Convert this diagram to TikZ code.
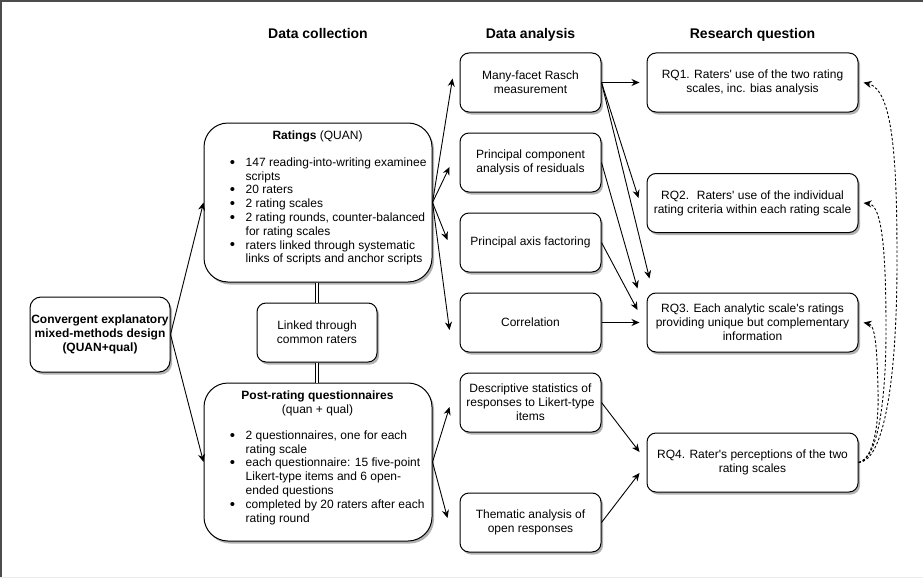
\documentclass[tikz,border=0pt]{standalone}
\usepackage{fontspec}
\setmainfont{Liberation Sans}[Ligatures=TeXOff]
\usetikzlibrary{arrows.meta,shadows,calc}
\newcommand{\itm}{\makebox[15.5pt][l]{\hspace*{-0.4pt}\raisebox{-0.8pt}{\fontsize{15}{13.8}\selectfont\textbullet}}}
\newcommand{\ind}{\hspace*{15.5pt}}
\begin{document}
\begin{tikzpicture}[x=1pt,y=-1pt,
  font=\fontsize{12}{13.8}\selectfont,
  box/.style={draw=black, line width=1pt, fill=white, rounded corners=#1, inner sep=0pt, align=center,
     drop shadow={shadow xshift=2pt,shadow yshift=-2.5pt,opacity=0.3,fill=black}},
  box/.default=9pt,
  sz/.style n args={2}{minimum width=#1pt, minimum height=#2pt},
  hdr/.style={font=\fontsize{14}{16}\selectfont\bfseries, anchor=base},
  arr/.style={-{Stealth[length=8pt,width=7pt]}, line width=0.9pt},
  dsh/.style={arr, dash pattern=on 2.5pt off 2pt},
  dbl/.style={double, double distance=2.2pt, line width=0.8pt},
]
\useasboundingbox (0,0) rectangle (923,578);
\fill[white] (0,0) rectangle (923,578);
% frame
\draw[line width=1.5pt, black!70] (1,578) -- (1,1) -- (923,1);
\draw[black!8] (0,577.5) -- (923,577.5);

% headers
\node[hdr] (hdc) at (318,38) {Data collection};
\node[hdr] (hda) at (530.5,38) {Data analysis};
\node[hdr] (hrq) at (752.5,38) {Research question};

% left
\node[box=11pt, sz={140}{75}, font=\fontsize{12}{13.8}\selectfont\bfseries] (conv) at (100,334.5)
  {Convergent explanatory\\mixed-methods design\\(QUAN+qual)};

% data collection
\node[box=24pt, sz={228}{159}] (rat) at (318,202.5) {};
\node[anchor=base, inner sep=0pt] (ratT) at (317.5,139.3) {\textbf{Ratings} (QUAN)};
\node[anchor=base west, inner sep=0pt] (ratL) at (230,166.3) {\begin{tabular}[t]{@{}l@{}}
\itm 147 reading-into-writing examinee\\
\ind scripts\\
\itm 20 raters\\
\itm 2 rating scales\\
\itm 2 rating rounds, counter-balanced\\
\ind for rating scales\\
\itm raters linked through systematic\\
\ind links of scripts and anchor scripts
\end{tabular}};

\node[box, sz={120}{59}] (link) at (317,332.5) {Linked through\\common raters};

\node[box=24pt, sz={228}{158}] (post) at (318,462) {};
\node[anchor=base, inner sep=0pt] (postT) at (317.5,399.3) {\begin{tabular}[t]{@{}c@{}}
\textbf{Post-rating questionnaires}\\(quan + qual)\end{tabular}};
\node[anchor=base west, inner sep=0pt] (postL) at (230,439.3) {\begin{tabular}[t]{@{}l@{}}
\itm 2 questionnaires, one for each\\
\ind rating scale\\
\itm each questionnaire: 15 five-point\\
\ind Likert-type items and 6 open-\\
\ind ended questions\\
\itm completed by 20 raters after each\\
\ind rating round
\end{tabular}};

% data analysis
\node[box, sz={141}{59}] (mfrm) at (530.5,82.5) {Many-facet Rasch\\measurement};
\node[box, sz={141}{59}] (pca) at (530.5,162.5) {Principal component\\analysis of residuals};
\node[box, sz={141}{59}] (paf) at (530.5,242.5) {Principal axis factoring};
\node[box, sz={141}{59}] (corr) at (530.5,322.5) {Correlation};
\node[box, sz={141}{59}] (desc) at (530.5,402.5) {Descriptive statistics of\\responses to Likert-type\\items};
\node[box, sz={141}{59}] (them) at (530.5,522.5) {Thematic analysis of\\open responses};

% research questions
\node[box, sz={211}{59}] (rq1) at (752.5,82.5) {RQ1. Raters' use of the two rating\\scales, inc. bias analysis};
\node[box, sz={211}{59}] (rq2) at (752.5,203) {RQ2.~ Raters' use of the individual\\rating criteria within each rating scale};
\node[box, sz={211}{59}] (rq3) at (752.5,322.5) {RQ3. Each analytic scale's ratings\\providing unique but complementary\\information};
\node[box, sz={211}{59}] (rq4) at (752.5,462.5) {RQ4. Rater's perceptions of the two\\rating scales};

% connectors
\draw[arr] (conv.east) -- (rat.west);
\draw[arr] (conv.east) -- (post.west);
\draw[dbl] (rat.south -| link.north) -- (link.north);
\draw[dbl] (link.south) -- (post.north -| link.south);

\draw[arr] (rat.east) -- ([shift={(-7,-4)}]mfrm.west);
\draw[arr] (rat.east) -- ([shift={(-10,4.5)}]pca.west);
\draw[arr] (rat.east) -- ([shift={(-12,-2.5)}]paf.west);
\draw[arr] (rat.east) -- ([shift={(-10,7.5)}]corr.west);
\draw[arr] (post.east) -- ([shift={(-10,4.5)}]desc.west);
\draw[arr] (post.east) -- ([shift={(-12,-4.5)}]them.west);

\draw[arr] (mfrm.east) -- ([shift={(-7,0)}]rq1.west);
\draw[arr] (mfrm.east) -- ([shift={(-8,-5)}]rq2.west);
\draw[arr] (mfrm.east) -- ([shift={(3,-14)}]rq3.north west);
\draw[arr] (pca.east) -- ([shift={(-9,-4)}]rq3.north west);
\draw[arr] (paf.east) -- ([shift={(-9,-12.5)}]rq3.west);
\draw[arr] (corr.east) -- ([shift={(-7,0)}]rq3.west);
\draw[arr] (desc.east) -- ([shift={(-7,-10.5)}]rq4.west);
\draw[arr] (them.east) -- ([shift={(-7,10.5)}]rq4.west);

% dashed curves
\draw[dsh] (rq4.east) .. controls (880,462) and (897,400) .. (897,260)
  .. controls (897,160) and (893,90) .. ([shift={(5,0)}]rq1.east);
\draw[dsh] (rq4.east) .. controls (878,460) and (886,400) .. (886,330)
  .. controls (886,250) and (882,205) .. ([shift={(5,0)}]rq2.east);
\draw[dsh] (rq4.east) .. controls (875,458) and (879,420) .. (878,390)
  .. controls (877,345) and (875,325) .. ([shift={(5,0)}]rq3.east);
\end{tikzpicture}
\end{document}
